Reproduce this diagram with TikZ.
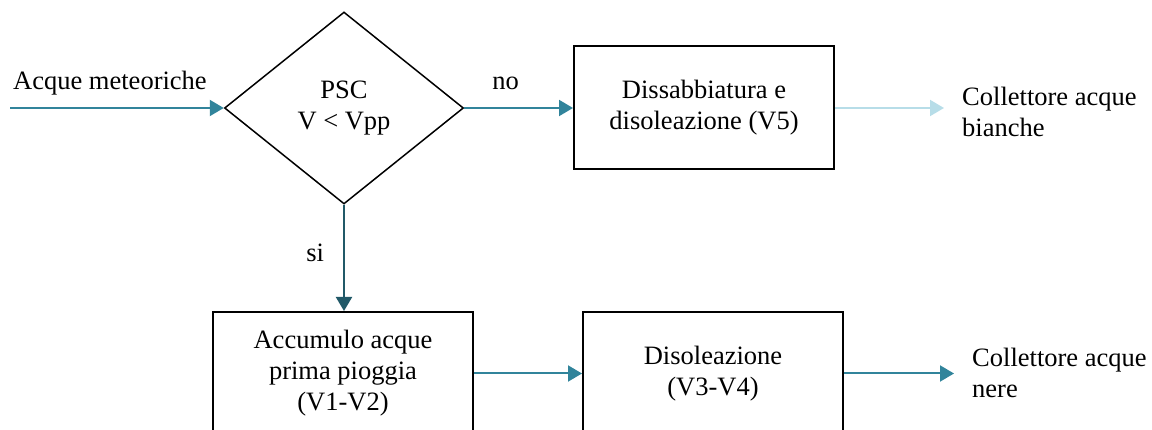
\documentclass[tikz,border=0pt]{standalone}
\usepackage{fontspec}
\setmainfont{Liberation Serif}
\usetikzlibrary{shapes.geometric, arrows.meta, positioning}

\definecolor{flowteal}{HTML}{31849B}
\definecolor{flowdark}{HTML}{215968}
\definecolor{flowlight}{HTML}{B7DDE8}

\tikzset{
  stagebox/.style={draw, line width=2pt, minimum width=260pt, minimum height=123pt, align=center, inner sep=0pt},
  flowarrow/.style={line width=2pt, flowteal, -{Triangle[length=14pt, width=16pt]}},
  plainlabel/.style={inner sep=0pt, align=left, text=black}
}

\begin{document}
\begin{tikzpicture}[x=1pt, y=-1pt, font=\fontsize{26.5}{31}\selectfont]

  \useasboundingbox (0,0) rectangle (1152,430);

  % Decision PSC
  \node[diamond, draw, line width=1.5pt, minimum width=239pt, minimum height=192pt, inner sep=0pt, align=center] (psc) at (344,108) {PSC\\V < Vpp};

  % Stages
  \node[stagebox] (dissab) at (704,108) {Dissabbiatura e\\disoleazione (V5)};
  \node[stagebox] (accum) at (343,373.5) {Accumulo acque\\prima pioggia\\(V1-V2)};
  \node[stagebox] (disol) at (713,373.5) {Disoleazione\\(V3-V4)};

  % Inflow
  \coordinate (inflow) at (10,108);
  \node[plainlabel, anchor=base west, xshift=3pt, yshift=18pt] (inlbl) at (inflow) {Acque meteoriche};
  \draw[flowarrow] (inflow) -- (psc.west);

  % Outflows
  \node[plainlabel, anchor=west] (bianche) at (962,112) {Collettore acque\\bianche};
  \node[plainlabel, anchor=west] (nere) at (972,373) {Collettore acque\\nere};

  % Connectors
  \draw[flowarrow] (psc.east) -- node[plainlabel, anchor=base, yshift=18pt, xshift=-13pt] (nolbl) {no} (dissab.west);
  \draw[flowarrow, flowdark] (psc.south) -- node[plainlabel, left=19pt, yshift=5pt] (silbl) {si} (psc.south |- accum.north);
  \draw[flowarrow] (accum.east) -- (disol.west);
  \draw[flowarrow, flowlight, shorten >=18pt] (dissab.east) -- (bianche.west |- dissab.east);
  \draw[flowarrow, shorten >=18pt] (disol.east) -- (nere.west |- disol.east);

\end{tikzpicture}
\end{document}
